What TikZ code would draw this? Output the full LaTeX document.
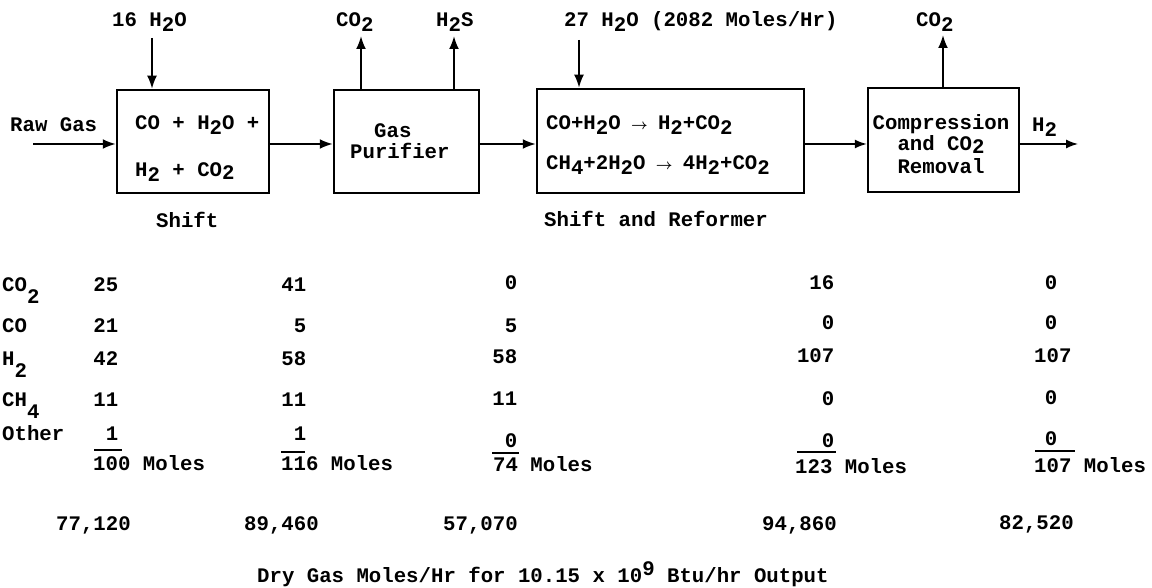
\documentclass[tikz,border=0pt]{standalone}
\usepackage{fontspec}
\usepackage{graphicx}
\setmainfont{Liberation Mono}
\usetikzlibrary{arrows.meta}
\newcommand\lo[1]{\raisebox{-5pt}{#1}}
\newcommand\slo[1]{\raisebox{-3pt}{#1}}
\newcommand\tlo[1]{\raisebox{-12pt}{#1}}
\newcommand\upx[1]{\raisebox{7pt}{#1}}
\newcommand\rarr{\makebox[0.6em]{\scalebox{0.7}{$\boldsymbol{\rightarrow}$}}}
\usepackage{amsmath}
\begin{document}
\begin{tikzpicture}[x=1pt,y=-1pt,
  txt/.style={inner sep=0pt, anchor=base west, font=\fontsize{20.7}{24}\selectfont\bfseries},
  ctxt/.style={txt, anchor=base},
  num/.style={txt, anchor=base east},
  box/.style={draw, line width=2.5pt, inner sep=0pt},
  arr/.style={line width=2pt, -{Latex[length=13pt,width=10pt]}},
  thinarr/.style={line width=1.4pt, -{Latex[length=12pt,width=9pt]}},
  uline/.style={line width=1.5pt}]
\useasboundingbox (0,0) rectangle (1152,588);
% boxes
\node[box, minimum width=152pt, minimum height=103pt] (b1) at (193,141.5) {};
\node[box, minimum width=145pt, minimum height=103pt] (b2) at (406.5,141.5) {};
\node[box, minimum width=267pt, minimum height=104pt] (b3) at (670.5,141) {};
\node[box, minimum width=151pt, minimum height=104pt] (b4) at (943.5,140) {};
% box texts
\node[txt] (t1a) at (135,130) {CO + H\lo{2}O +};
\node[txt] (t1b) at (135,177) {H\lo{2} + CO\slo{2}};
\node[txt] (t2a) at (374,138) {Gas};
\node[txt] (t2b) at (350,159) {Purifier};
\node[txt] (t3a) at (546,130) {CO+H\lo{2}O \rarr{} H\lo{2}+CO\lo{2}};
\node[txt] (t3b) at (546,170) {CH\lo{4}+2H\lo{2}O \rarr{} 4H\lo{2}+CO\lo{2}};
\node[ctxt] (t4a) at (941,130) {Compression};
\node[ctxt] (t4b) at (941,151) {and CO\slo{2}};
\node[ctxt] (t4c) at (941,174) {Removal};
% stream labels
\node[txt] (lraw) at (10,132) {Raw Gas};
\node[txt] (l16) at (112,27) {16 H\lo{2}O};
\node[txt] (lco2a) at (336,27) {CO\lo{2}};
\node[txt] (lh2s) at (436,27) {H\lo{2}S};
\node[txt] (l27) at (564,27) {27 H\lo{2}O (2082 Moles/Hr)};
\node[txt] (lco2b) at (916,27) {CO\lo{2}};
\node[txt] (lh2) at (1032,132) {H\lo{2}};
\node[txt] (lshift) at (156,228) {Shift};
\node[txt] (lsr) at (544,227) {Shift and Reformer};
% connectors
\coordinate (fl) at (0,144);
\coordinate (rg) at (33,144);
\coordinate (h2end) at (1078,144);
\coordinate (s16) at (152,38);
\coordinate (s27) at (579,40);
\coordinate (c1) at (361,36);
\coordinate (c2) at (454,36);
\coordinate (c3) at (943,35);
\draw[arr] (rg) -- (rg -| b1.west);
\draw[arr] (s16) -- (s16 |- b1.north);
\draw[arr] (b1.east |- fl) -- (b2.west |- fl);
\draw[arr] (c1 |- b2.north) -- (c1);
\draw[arr] (c2 |- b2.north) -- (c2);
\draw[arr] (b2.east |- fl) -- (b3.west |- fl);
\draw[arr] (s27) -- (s27 |- b3.north);
\draw[thinarr] (b3.east |- fl) -- (b4.west |- fl);
\draw[arr] (c3 |- b4.north) -- (c3);
\draw[thinarr] (b4.east |- fl) -- (h2end);
% table labels
\node[txt] (rco2) at (2,292) {CO\tlo{2}};
\node[txt] (rco) at (2,333) {CO};
\node[txt] (rh2) at (2,365) {H\tlo{2}};
\node[txt] (rch4) at (2,406) {CH\tlo{4}};
\node[txt] (roth) at (2,440) {Other};
% column 1
\node[num] (a1) at (118.5,292) {25};
\node[num] (a2) at (118.5,333) {21};
\node[num] (a3) at (118.5,365) {42};
\node[num] (a4) at (118.5,406) {11};
\node[num] (a5) at (118.5,440) {1};
\draw[uline] (94,450) -- (122,450);
\node[txt] (a6) at (93,470) {100 Moles};
% column 2
\node[num] (b1n) at (306.5,292) {41};
\node[num] (b2n) at (306.5,333) {5};
\node[num] (b3n) at (306.5,365) {58};
\node[num] (b4n) at (306.5,406) {11};
\node[num] (b5n) at (306.5,440) {1};
\draw[uline] (281,452) -- (305,452);
\node[txt] (b6n) at (281,470) {116 Moles};
% column 3
\node[num] (c1n) at (517.5,290) {0};
\node[num] (c2n) at (517.5,332) {5};
\node[num] (c3n) at (517.5,363) {58};
\node[num] (c4n) at (517.5,405) {11};
\node[num] (c5n) at (517.5,447) {0};
\draw[uline] (492,453) -- (519,453);
\node[txt] (c6n) at (493,471) {74 Moles};
% column 4
\node[num] (d1n) at (834.5,290) {16};
\node[num] (d2n) at (834.5,330) {0};
\node[num] (d3n) at (834.5,362) {107};
\node[num] (d4n) at (834.5,405) {0};
\node[num] (d5n) at (834.5,447) {0};
\draw[uline] (797,452) -- (836,452);
\node[txt] (d6n) at (795,473) {123 Moles};
% column 5
\node[ctxt] (e1n) at (1051,290) {0};
\node[ctxt] (e2n) at (1051,330) {0};
\node[txt] (e3n) at (1034,362) {107};
\node[ctxt] (e4n) at (1051,404) {0};
\node[ctxt] (e5n) at (1051,445) {0};
\draw[uline] (1035,451) -- (1075,451);
\node[txt] (e6n) at (1034,472) {107 Moles};
% totals
\node[txt] (f1) at (56,530) {77,120};
\node[txt] (f2) at (244,530) {89,460};
\node[txt] (f3) at (443,530) {57,070};
\node[txt] (f4) at (762,530) {94,860};
\node[txt] (f5) at (999,529) {82,520};
\node[txt] (foot) at (257,582) {Dry Gas Moles/Hr for 10.15 x 10\upx{9} Btu/hr Output};
\end{tikzpicture}
\end{document}
